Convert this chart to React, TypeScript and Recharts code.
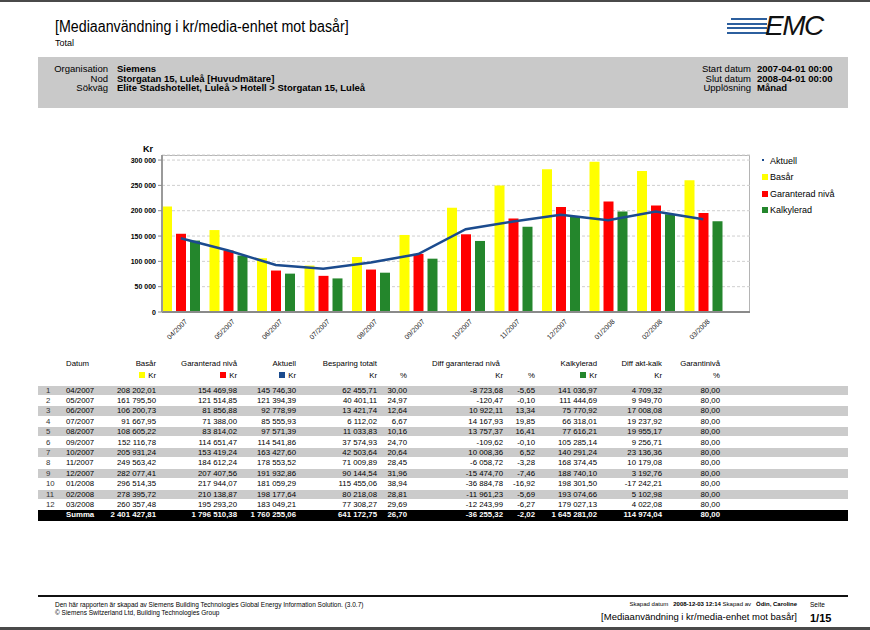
import React from 'react';
import { ComposedChart, Bar, Line, XAxis, YAxis, CartesianGrid } from 'recharts';

// Data (monthly, kr)
const months = ['04/2007', '05/2007', '06/2007', '07/2007', '08/2007', '09/2007', '10/2007', '11/2007', '12/2007', '01/2008', '02/2008', '03/2008'];
const basar = [208202.01, 161795.5, 106200.73, 91667.95, 108605.22, 152116.78, 205931.24, 249563.42, 282077.41, 296514.35, 278395.72, 260357.48];
const garanterad = [154469.98, 121514.85, 81856.88, 71388.0, 83814.02, 114651.47, 153419.24, 184612.24, 207407.56, 217944.07, 210138.87, 195293.2];
const aktuell = [145746.3, 121394.39, 92778.99, 85555.93, 97571.39, 114541.86, 163427.6, 178553.52, 191932.86, 181059.29, 198177.64, 183049.21];
const besparing = [62455.71, 40401.11, 13421.74, 6112.02, 11033.83, 37574.93, 42503.64, 71009.89, 90144.54, 115455.06, 80218.08, 77308.27];
const besparingPct = [30.0, 24.97, 12.64, 6.67, 10.16, 24.7, 20.64, 28.45, 31.96, 38.94, 28.81, 29.69];
const diffGar = [-8723.68, -120.47, 10922.11, 14167.93, 13757.37, -109.62, 10008.36, -6058.72, -15474.7, -36884.78, -11961.23, -12243.99];
const diffGarPct = [-5.65, -0.1, 13.34, 19.85, 16.41, -0.1, 6.52, -3.28, -7.46, -16.92, -5.69, -6.27];
const kalkylerad = [141036.97, 111444.69, 75770.92, 66318.01, 77616.21, 105285.14, 140291.24, 168374.45, 188740.1, 198301.5, 193074.66, 179027.13];
const diffAktKalk = [4709.32, 9949.7, 17008.08, 19237.92, 19955.17, 9256.71, 23136.36, 10179.08, 3192.76, -17242.21, 5102.98, 4022.08];
const garantiniva = [80, 80, 80, 80, 80, 80, 80, 80, 80, 80, 80, 80];
const summa = [2401427.81, 1796510.38, 1760255.06, 641172.75, 26.7, -36255.32, -2.02, 1645281.02, 114974.04, 80];
const yTicks = [0, 50000, 100000, 150000, 200000, 250000, 300000];

const YELLOW = '#ffff00';
const RED = '#ff0000';
const GREEN = '#24862c';
const BLUE = '#1b4b8e';
const FONT = "'Liberation Sans', Arial, sans-serif";

const chartData = months.map((m, i) => ({
  month: m,
  basar: basar[i],
  garanterad: garanterad[i],
  aktuell: aktuell[i],
  kalkylerad: kalkylerad[i],
}));

const fmt = (v: number) => {
  const neg = v < 0;
  const [int, dec] = Math.abs(v).toFixed(2).split('.');
  const grouped = int.replace(/\B(?=(\d{3})+(?!\d))/g, ' ');
  return (neg ? '-' : '') + grouped + ',' + dec;
};
const fmtTick = (v: number) => String(v).replace(/\B(?=(\d{3})+(?!\d))/g, ' ');

const MonthTick = (props: any) => {
  const { x, y, payload } = props;
  return (
    <g transform={`translate(${x + 7},${y + 4})`}>
      <text transform="rotate(-45)" textAnchor="end" fontSize={7} fill="#1a1a1a" fontFamily={FONT}>
        {payload.value}
      </text>
    </g>
  );
};

const KrTick = (props: any) => {
  const { x, y, payload } = props;
  return (
    <text x={x} y={y} dy={2.5} textAnchor="end" fontSize={7} fontWeight="bold" fill="#000" fontFamily={FONT}>
      {fmtTick(payload.value)}
    </text>
  );
};

const legendItems = [
  { name: 'Aktuell', color: BLUE, dot: true },
  { name: 'Basår', color: YELLOW },
  { name: 'Garanterad nivå', color: RED },
  { name: 'Kalkylerad', color: GREEN },
];

// table columns: right edge and values
const cols = [
  { right: 156, values: basar },
  { right: 237, values: garanterad },
  { right: 296, values: aktuell },
  { right: 377, values: besparing },
  { right: 407, values: besparingPct },
  { right: 503, values: diffGar },
  { right: 535, values: diffGarPct },
  { right: 597, values: kalkylerad },
  { right: 662, values: diffAktKalk },
  { right: 720, values: garantiniva },
];

const ROW_TOP = 385.5;
const ROW_H = 10.4;

const abs = (left: number, top: number, extra: React.CSSProperties = {}): React.CSSProperties => ({
  position: 'absolute',
  left,
  top,
  whiteSpace: 'nowrap',
  ...extra,
});
const rightAt = (right: number, top: number, extra: React.CSSProperties = {}): React.CSSProperties => ({
  position: 'absolute',
  right: 870 - right,
  top,
  whiteSpace: 'nowrap',
  textAlign: 'right',
  ...extra,
});

const Swatch = ({ color }: { color: string }) => (
  <span style={{ display: 'inline-block', width: 6, height: 6, background: color, marginRight: 3, verticalAlign: 0 }} />
);

export default function App() {
  return (
    <div style={{ position: 'absolute', left: 0, top: 0, width: 870, height: 630, background: '#fff', fontFamily: FONT, color: '#000', overflow: 'hidden' }}>
      {/* page frame */}
      <div style={{ position: 'absolute', left: 0, top: 0, width: 870, height: 2, background: '#4a4a4a' }} />
      <div style={{ position: 'absolute', left: 0, top: 627, width: 870, height: 3, background: '#4a4a4a' }} />

      {/* header */}
      <div style={abs(55, 17, { fontSize: 16, lineHeight: '20px', transform: 'scaleX(0.89)', transformOrigin: 'left top' })}>
        [Mediaanvändning i kr/media-enhet mot basår]
      </div>
      <div style={abs(55, 38, { fontSize: 9 })}>Total</div>

      {/* logo */}
      {[0, 1, 2, 3].map((k) => (
        <div key={k} style={{ position: 'absolute', left: k === 0 ? 731 : 727, top: 18 + k * 4.7, width: k === 0 ? 36 : 40, height: 2, background: '#2c5f9e' }} />
      ))}
      <div style={abs(765, 11, { fontSize: 28, fontStyle: 'italic', letterSpacing: -1.5, lineHeight: '30px', color: '#111' })}>EMC</div>

      {/* info band */}
      <div style={{ position: 'absolute', left: 38, top: 57, width: 810, height: 51, background: '#c9c9c9' }} />
      {[
        ['Organisation', 'Siemens'],
        ['Nod', 'Storgatan 15, Luleå [Huvudmätare]'],
        ['Sökväg', 'Elite Stadshotellet, Luleå > Hotell > Storgatan 15, Luleå'],
      ].map(([label, value], i) => (
        <React.Fragment key={label}>
          <div style={rightAt(108, 63 + i * 9.7, { fontSize: 9.5, lineHeight: '11px' })}>{label}</div>
          <div style={abs(117, 63 + i * 9.7, { fontSize: 9.5, lineHeight: '11px', fontWeight: 'bold' })}>{value}</div>
        </React.Fragment>
      ))}
      {[
        ['Start datum', '2007-04-01 00:00'],
        ['Slut datum', '2008-04-01 00:00'],
        ['Upplösning', 'Månad'],
      ].map(([label, value], i) => (
        <React.Fragment key={label}>
          <div style={rightAt(751, 63 + i * 9.7, { fontSize: 9.5, lineHeight: '11px' })}>{label}</div>
          <div style={abs(757, 63 + i * 9.7, { fontSize: 9.5, lineHeight: '11px', fontWeight: 'bold' })}>{value}</div>
        </React.Fragment>
      ))}

      {/* plot frame (top/right border) */}
      <div style={{ position: 'absolute', left: 162, top: 155, width: 588, height: 157, borderTop: '1px solid #b4b4b4', borderRight: '1px solid #b4b4b4', boxSizing: 'border-box' }} />
      <div style={abs(143, 144, { fontSize: 9, fontWeight: 'bold' })}>Kr</div>

      <div style={{ position: 'absolute', left: 0, top: 140 }}>
        <ComposedChart
          width={870}
          height={200}
          data={chartData}
          margin={{ top: 15, right: 120, left: 122, bottom: 0 }}
          barSize={10}
          barGap={4}
        >
          <CartesianGrid vertical={false} stroke="#cfcfcf" strokeDasharray="3 2" />
          <Bar dataKey="basar" name="Basår" fill={YELLOW} isAnimationActive={false} />
          <Bar dataKey="garanterad" name="Garanterad nivå" fill={RED} isAnimationActive={false} />
          <Bar dataKey="kalkylerad" name="Kalkylerad" fill={GREEN} isAnimationActive={false} />
          <Line dataKey="aktuell" name="Aktuell" type="linear" stroke={BLUE} strokeWidth={2.5} dot={false} isAnimationActive={false} />
          <XAxis
            dataKey="month"
            interval={0}
            height={28}
            padding={{ left: -5, right: 23 }}
            tick={<MonthTick />}
            tickLine={false}
            tickSize={0}
            tickMargin={6}
            axisLine={{ stroke: '#8a8a8a', strokeWidth: 2 }}
          />
          <YAxis
            domain={[0, 310000]}
            ticks={yTicks}
            width={40}
            tick={<KrTick />}
            tickSize={4}
            tickMargin={2}
            tickLine={{ stroke: '#8a8a8a' }}
            axisLine={{ stroke: '#9a9a9a', strokeWidth: 2 }}
            allowDataOverflow
          />
        </ComposedChart>
      </div>

      {/* legend */}
      {legendItems.map((it, i) => (
        <div key={it.name} style={abs(762, 155 + i * 16.4, { fontSize: 9, lineHeight: '12px' })}>
          {it.dot ? (
            <span style={{ display: 'inline-block', width: 2, height: 2, background: it.color, marginRight: 6, verticalAlign: 3 }} />
          ) : (
            <span style={{ display: 'inline-block', width: 6, height: 6, background: it.color, marginRight: 2, verticalAlign: 0 }} />
          )}
          {it.name}
        </div>
      ))}

      {/* table header */}
      <div style={{ fontSize: 7.8 }}>
        <div style={abs(66, 359)}>Datum</div>
        <div style={rightAt(156, 359)}>Basår</div>
        <div style={rightAt(156, 371)}><Swatch color={YELLOW} />Kr</div>
        <div style={rightAt(237, 359)}>Garanterad nivå</div>
        <div style={rightAt(237, 371)}><Swatch color={RED} />Kr</div>
        <div style={rightAt(296, 359)}>Aktuell</div>
        <div style={rightAt(296, 371)}><Swatch color={BLUE} />Kr</div>
        <div style={rightAt(377, 359)}>Besparing totalt</div>
        <div style={rightAt(377, 371)}>Kr</div>
        <div style={rightAt(407, 371)}>%</div>
        <div style={abs(432, 359)}>Diff garanterad nivå</div>
        <div style={rightAt(503, 371)}>Kr</div>
        <div style={rightAt(535, 371)}>%</div>
        <div style={rightAt(597, 359)}>Kalkylerad</div>
        <div style={rightAt(597, 371)}><Swatch color={GREEN} />Kr</div>
        <div style={rightAt(662, 359)}>Diff akt-kalk</div>
        <div style={rightAt(662, 371)}>Kr</div>
        <div style={rightAt(720, 359)}>Garantinivå</div>
        <div style={rightAt(720, 371)}>%</div>

        {/* rows */}
        {months.map((m, i) => (
          <React.Fragment key={m}>
            {i % 2 === 0 && (
              <div style={{ position: 'absolute', left: 38, top: ROW_TOP + i * ROW_H, width: 810, height: ROW_H - 1, background: '#cbcbcb' }} />
            )}
            <div style={abs(46, ROW_TOP + i * ROW_H, { lineHeight: `${ROW_H - 1}px`, color: '#333' })}>{i + 1}</div>
            <div style={abs(66, ROW_TOP + i * ROW_H, { lineHeight: `${ROW_H - 1}px` })}>{m}</div>
            {cols.map((c, j) => (
              <div key={j} style={rightAt(c.right, ROW_TOP + i * ROW_H, { lineHeight: `${ROW_H - 1}px` })}>
                {fmt(c.values[i])}
              </div>
            ))}
          </React.Fragment>
        ))}
        <div style={{ position: 'absolute', left: 38, top: ROW_TOP + 12 * ROW_H, width: 810, height: ROW_H, background: '#000' }} />
        <div style={abs(66, ROW_TOP + 12 * ROW_H, { lineHeight: `${ROW_H}px`, color: '#fff', fontWeight: 'bold' })}>Summa</div>
        {cols.map((c, j) => (
          <div key={j} style={rightAt(c.right, ROW_TOP + 12 * ROW_H, { lineHeight: `${ROW_H}px`, color: '#fff', fontWeight: 'bold' })}>
            {fmt(summa[j])}
          </div>
        ))}
      </div>

      {/* footer */}
      <div style={{ position: 'absolute', left: 38, top: 595, width: 810, height: 2, background: '#111' }} />
      <div style={abs(55, 601, { fontSize: 6.5, lineHeight: '7.5px' })}>
        Den här rapporten är skapad av Siemens Building Technologies Global Energy Information Solution. (3.0.7)
        <br />© Siemens Switzerland Ltd, Building Technologies Group
      </div>
      <div style={rightAt(797, 601, { fontSize: 6, lineHeight: '7.5px' })}>
        Skapad datum&nbsp;&nbsp; <b>2008-12-03 12:14</b> Skapad av&nbsp;&nbsp; <b>Ödin, Caroline</b>
      </div>
      <div style={rightAt(797, 611, { fontSize: 9.5, lineHeight: '12px' })}>[Mediaanvändning i kr/media-enhet mot basår]</div>
      <div style={abs(810, 601, { fontSize: 6.5, lineHeight: '7.5px' })}>Seite</div>
      <div style={abs(810, 611, { fontSize: 11, lineHeight: '14px', fontWeight: 'bold' })}>1/15</div>
    </div>
  );
}
